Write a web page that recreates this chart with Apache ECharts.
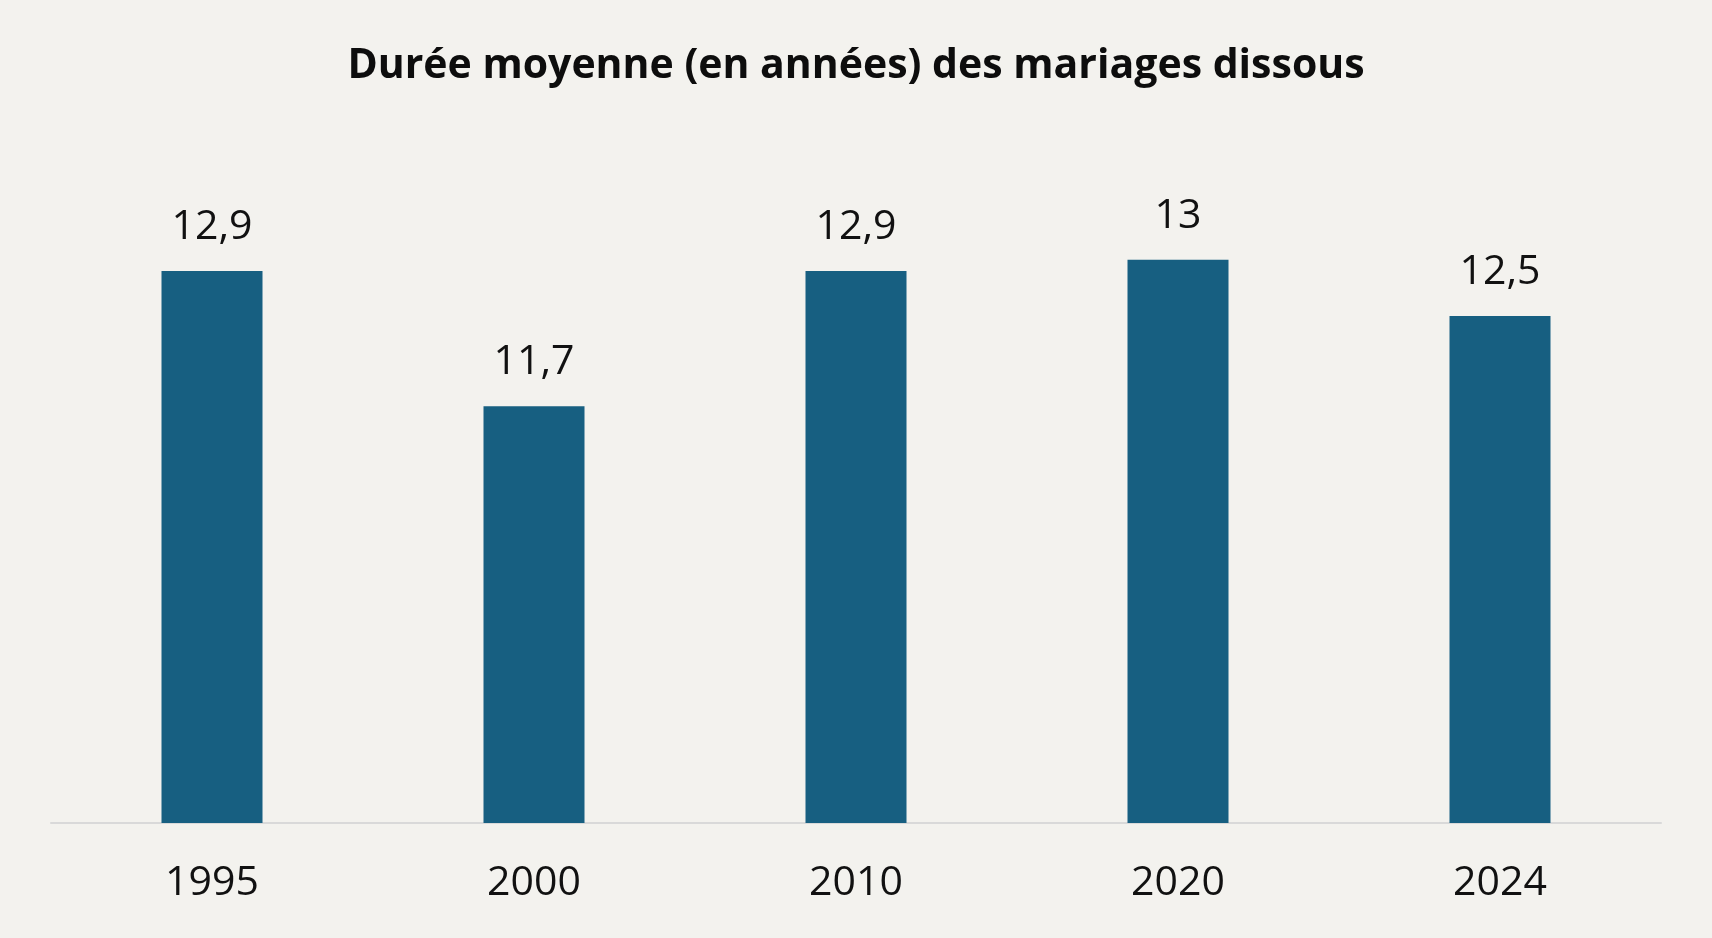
<!DOCTYPE html>
<html>
<head>
<meta charset="utf-8">
<script src="https://cdn.jsdelivr.net/npm/echarts@6/dist/echarts.min.js"></script>
<style>
html,body{margin:0;padding:0;background:#f3f2ee;}
#c{width:1712px;height:938px;}
</style>
</head>
<body>
<div id="c"></div>
<script>
const titleText = 'Durée moyenne (en années) des mariages dissous';
const categories = ['1995', '2000', '2010', '2020', '2024'];
const values = [12.9, 11.7, 12.9, 13, 12.5];

const chart = echarts.init(document.getElementById('c'));
chart.setOption({
  backgroundColor: '#f3f2ee',
  animation: false,
  title: {
    text: titleText,
    left: 'center',
    top: 41,
    textStyle: {fontFamily: 'Open Sans', fontWeight: 700, fontSize: 41, color: '#0d0d0d'}
  },
  grid: {left: 51, right: 51, top: 147, bottom: 115},
  xAxis: {
    type: 'category',
    data: categories,
    axisLine: {lineStyle: {color: '#d9d9d9', width: 2}},
    axisTick: {show: false},
    axisLabel: {fontFamily: 'Open Sans', fontSize: 41, color: '#111', margin: 40}
  },
  yAxis: {
    type: 'value',
    min: 8,
    max: 14,
    show: false,
    splitLine: {show: false}
  },
  series: [{
    type: 'bar',
    data: values,
    barWidth: 101,
    itemStyle: {color: '#175f81'},
    label: {
      show: true,
      position: 'top',
      distance: 23,
      fontFamily: 'Open Sans',
      fontSize: 41,
      color: '#111',
      formatter: p => String(p.value).replace('.', ',')
    }
  }]
});
</script>
</body>
</html>
